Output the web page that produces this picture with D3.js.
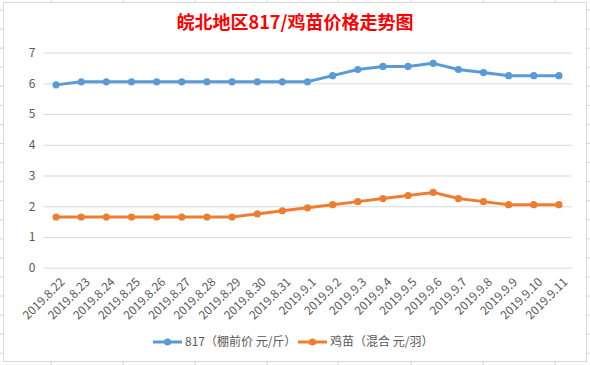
<!DOCTYPE html>
<html>
<head>
<meta charset="utf-8">
<script src="https://d3js.org/d3.v7.min.js"></script>
<style>
  body { margin: 0; background: #fff; }
  svg text { font-family: "Noto Sans CJK SC", "Noto Sans", sans-serif; }
</style>
</head>
<body>
<div id="chart"></div>
<script>
// dates on the x axis
var dates = ["2019.8.22", "2019.8.23", "2019.8.24", "2019.8.25", "2019.8.26", "2019.8.27",
    "2019.8.28", "2019.8.29", "2019.8.30", "2019.8.31", "2019.9.1", "2019.9.2", "2019.9.3",
    "2019.9.4", "2019.9.5", "2019.9.6", "2019.9.7", "2019.9.8", "2019.9.9", "2019.9.10", "2019.9.11"];

// 817 price, yuan / jin
var price817 = [5.95, 6.05, 6.05, 6.05, 6.05, 6.05, 6.05, 6.05, 6.05, 6.05, 6.05,
    6.25, 6.45, 6.55, 6.55, 6.65, 6.45, 6.35, 6.25, 6.25, 6.25];

// chick price, yuan / each
var priceChick = [1.65, 1.65, 1.65, 1.65, 1.65, 1.65, 1.65, 1.65, 1.75, 1.85, 1.95,
    2.05, 2.15, 2.25, 2.35, 2.45, 2.25, 2.15, 2.05, 2.05, 2.05];

var yTicks = [0, 1, 2, 3, 4, 5, 6, 7];
var seriesNames = ["817（棚前价 元/斤）", "鸡苗（混合 元/羽）"];
var colors = ["#5b9bd5", "#ed7d31"];

var width = 590, height = 365;
var svg = d3.select("#chart").append("svg")
    .attr("width", width)
    .attr("height", height);

// spreadsheet cells behind the chart
var bg = svg.append("g");
d3.range(0, 20).forEach(function(i) {
    var yy = 10 + i * 19.07;
    bg.append("line").attr("x1", 0).attr("x2", width).attr("y1", yy).attr("y2", yy)
        .attr("stroke", "#d4d4d4");
});
[51, 123, 195, 267, 338, 411, 483, 555].forEach(function(xx) {
    bg.append("line").attr("x1", xx).attr("x2", xx).attr("y1", 0).attr("y2", height)
        .attr("stroke", "#d4d4d4");
});

// chart box
svg.append("rect")
    .attr("x", 3.5).attr("y", 2.5)
    .attr("width", 583).attr("height", 359)
    .attr("fill", "#fff")
    .attr("stroke", "#d9d9d9");

svg.append("text")
    .attr("x", 295).attr("y", 29)
    .attr("text-anchor", "middle")
    .attr("fill", "#ff0000")
    .attr("font-size", "18px")
    .attr("font-weight", "bold")
    .text("皖北地区817/鸡苗价格走势图");

var plotLeft = 43.5, plotRight = 571.5, plotTop = 52.6, plotBottom = 267.7;

var x = d3.scalePoint()
    .domain(dates)
    .range([plotLeft, plotRight])
    .padding(0.5);

var y = d3.scaleLinear()
    .domain([0, 7])
    .range([plotBottom, plotTop]);

// gridlines + y labels
var yAxis = svg.append("g")
    .attr("transform", "translate(" + plotLeft + ",0)")
    .call(d3.axisLeft(y).tickValues(yTicks).tickFormat(d3.format("d"))
        .tickSize(-(plotRight - plotLeft)).tickPadding(8));
yAxis.select(".domain").remove();
yAxis.selectAll("line").attr("stroke", "#d9d9d9");
yAxis.selectAll("text")
    .attr("fill", "#595959")
    .attr("font-size", "12px")
    .attr("font-family", "Noto Sans CJK SC");

// x labels rotated
var xAxis = svg.append("g")
    .attr("transform", "translate(0," + plotBottom + ")")
    .call(d3.axisBottom(x).tickSize(0));
xAxis.select(".domain").remove();
xAxis.selectAll("text")
    .attr("fill", "#595959")
    .attr("font-size", "12px")
    .attr("font-family", "Noto Sans CJK SC")
    .attr("text-anchor", "end")
    .attr("dy", "0.35em")
    .attr("transform", "translate(6,12) rotate(-45)")
    .attr("y", 0);

var line = d3.line()
    .x(function(d, i) { return x(dates[i]); })
    .y(function(d) { return y(d); });

[price817, priceChick].forEach(function(vals, k) {
    var g = svg.append("g");
    g.append("path")
        .datum(vals)
        .attr("d", line)
        .attr("fill", "none")
        .attr("stroke", colors[k])
        .attr("stroke-width", 3)
        .attr("stroke-linejoin", "round");
    g.selectAll("circle")
        .data(vals)
        .enter().append("circle")
        .attr("cx", function(d, i) { return x(dates[i]); })
        .attr("cy", function(d) { return y(d); })
        .attr("r", 3.6)
        .attr("fill", colors[k]);
});

// legend
var legendX = [153, 298];
seriesNames.forEach(function(name, k) {
    var g = svg.append("g").attr("transform", "translate(" + legendX[k] + ",342)");
    g.append("line").attr("x1", 0).attr("x2", 29).attr("y1", 0).attr("y2", 0)
        .attr("stroke", colors[k]).attr("stroke-width", 3);
    g.append("circle").attr("cx", 14.5).attr("cy", 0).attr("r", 3.6).attr("fill", colors[k]);
    g.append("text")
        .attr("x", 32).attr("y", 0)
        .attr("dy", "0.35em")
        .attr("fill", "#595959")
        .attr("font-size", "12px")
        .text(name);
});
</script>
</body>
</html>
